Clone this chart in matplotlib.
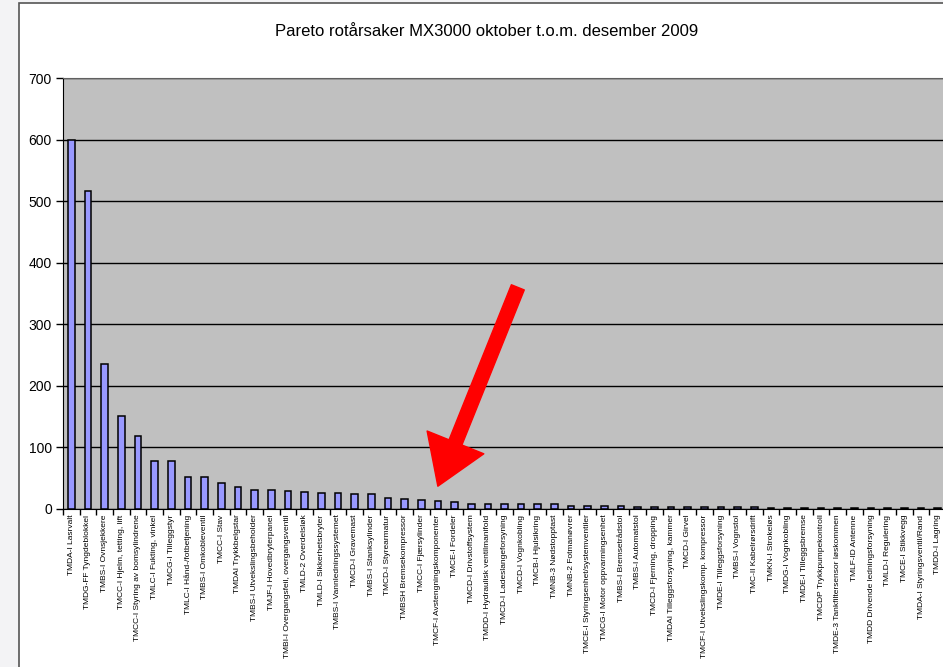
import matplotlib
matplotlib.use('Agg')
import numpy as np
from matplotlib import pyplot as plt
from matplotlib.patches import Rectangle

title = 'Pareto rotårsaker MX3000 oktober t.o.m. desember 2009'

causes = ['TMDA-I Lasrvalt', 'TMDG-FF Tyngdeblokkel', 'TMBS-I Ovnsjekkere',
          'TMCC-I Hjelm, tetting, lift', 'TMCC-I Styring av bomsylindrene',
          'TMLC-I Fukting, vinkel', 'TMCG-I Tilleggstyr', 'TMLC-I Hånd-/fotbetjening',
          'TMBS-I Omkobleventil', 'TMCC-I Stav', 'TMDAI Trykkbelgstar',
          'TMBS-I Utvekslingsbeholder', 'TMJF-I Hovedbryterpanel',
          'TMBI-I Overgangsfeil, overgangsventil', 'TMLD-2 Overdelsløk',
          'TMLD-I Sikkerhetsbryter', 'TMBS-I Vannledningssystemet', 'TMCD-I Gravemast',
          'TMBS-I Stanksylinder', 'TMCD-I Styrearmatur', 'TMBSH Bremsekompressor',
          'TMCC-I Fjærsylinder', 'TMCF-I Avstengningskomponenter', 'TMCE-I Fordeler',
          'TMCD-I Drivstoffsystem', 'TMDD-I Hydraulisk ventilmanifold',
          'TMCD-I Ladeslangeforsyning', 'TMCD-I Vognkobling', 'TMCB-I Hjulsikring',
          'TMNB-3 Nødstopptast', 'TMNB-2 Fotmanøvrer', 'TMCE-I Styringsenhet/systemventiler',
          'TMCG-I Motor oppvarmingsenhet', 'TMBS-I Bremsetrådstol', 'TMBS-I Automatstol',
          'TMCD-I Fjerning, dropping', 'TMDAI Tilleggsforsyning, kammer', 'TMCD-I Girvel',
          'TMCF-I Utvekslingskomp. kompressor', 'TMDE-I Tilleggsforsyning',
          'TMBS-I Vognstol', 'TMC-II Kabelrørsdrift', 'TMKN-I Strokeløs',
          'TMDG-I Vognkobling', 'TMDE-I Tilleggsbremse', 'TMCDP Trykkpumpekontroll',
          'TMDE-3 Tankfiltersensor løskommen', 'TMLF-ID Antenne',
          'TMDD Drivende ledningsforsyning', 'TMLD-I Regulering', 'TMCE-I Stikkvegg',
          'TMDA-I Styringsventil/Rand', 'TMDD-I Lagring']

counts = [600, 517, 235, 151, 118, 78, 78, 52, 52, 42, 36, 31, 31, 29, 28, 26, 26,
          24, 24, 18, 16, 15, 13, 11, 8, 8, 8, 8, 8, 8, 5, 5, 5, 5, 3, 3, 3, 3,
          3, 3, 3, 3, 2, 2, 2, 2, 2, 2, 2, 1, 1, 1, 1]

yticks = [0, 100, 200, 300, 400, 500, 600, 700]

W, H = 943, 667
fig = plt.figure(figsize=(W / 100, H / 100), dpi=100, facecolor='#f3f3f5')

# chart area frame (screenshot border)
fig.add_artist(Rectangle((19 / W, -0.01), 1.0, 1 - 3 / H + 0.01, transform=fig.transFigure,
                         facecolor='white', edgecolor='#555555', lw=1.2, zorder=0))

ax = fig.add_axes([63 / W, 1 - 509 / H, (946 - 63) / W, (509 - 78) / H])
ax.set_facecolor('#c0c0c0')

x = np.arange(len(counts))
ax.bar(x, counts, width=0.4, color='#9999ff', edgecolor='black', linewidth=1.1, zorder=3)

ax.set_xlim(-0.5, len(counts) - 0.5)
ax.set_ylim(0, 700)
ax.set_yticks(yticks)
ax.yaxis.grid(True, color='black', linewidth=1.0, zorder=1)
ax.set_axisbelow(True)
ax.tick_params(axis='y', direction='out', length=5, width=1, pad=3, labelsize=10)
for lab in ax.get_yticklabels():
    lab.set_family('Liberation Sans')

ax.set_xticks(x)
ax.set_xticklabels(causes, rotation=90, fontsize=6, family='Liberation Sans')
ax.set_xticks(np.arange(len(counts) + 1) - 0.5, minor=True)
ax.tick_params(axis='x', which='major', length=0, pad=4)
ax.tick_params(axis='x', which='minor', direction='out', length=4, width=1)

ax.spines['left'].set_color('black')
ax.spines['bottom'].set_color('black')
ax.spines['top'].set_color('#606060')
ax.spines['right'].set_visible(False)

fig.text(487 / W, 1 - 31 / H, title, ha='center', va='center', fontsize=12,
         family='Liberation Sans')

# red arrow pointing at the tail of the pareto
ax.annotate('', xy=(22, 37), xytext=(26.8, 360),
            arrowprops=dict(arrowstyle='simple,head_length=34,head_width=44,tail_width=10',
                            mutation_scale=1, color='red', shrinkA=0, shrinkB=0),
            zorder=5)

plt.savefig('out.png', dpi=100, facecolor=fig.get_facecolor())
